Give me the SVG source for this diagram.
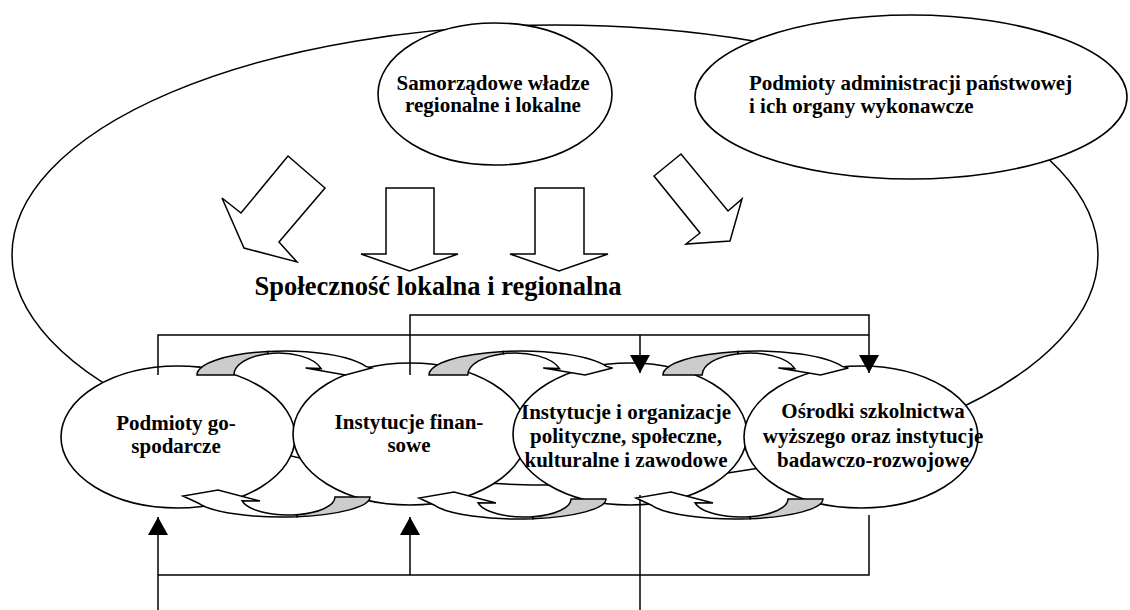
<svg xmlns="http://www.w3.org/2000/svg" width="1130" height="610" viewBox="0 0 1130 610">
<style>
.ln{fill:none;stroke:#000;stroke-width:1.5}
.sh{fill:#fff;stroke:#000;stroke-width:1.6}
.gr{fill:#cccccc;stroke:#000;stroke-width:1.5}
.wt{fill:#fff;stroke:#000;stroke-width:1.5}
text{font-family:"Liberation Serif","Times New Roman",serif;font-weight:bold;font-size:21px;fill:#000}
.c{text-anchor:middle}
.big{font-size:26.5px}
</style>
<defs>
<marker id="ah" viewBox="0 0 18 20" refX="18" refY="10" markerWidth="18" markerHeight="20" orient="auto" markerUnits="userSpaceOnUse">
<path d="M0,0 L18,10 L0,20 Z" fill="#000"/>
</marker>
<g id="ct">
<path class="gr" vector-effect="non-scaling-stroke" d="M0,0 A90,24 0 0 1 73,-23.57 L73,-21.36 A46,22 0 0 0 38,0 Z"/>
<path class="wt" vector-effect="non-scaling-stroke" d="M73,-23.57 A90,24 0 0 1 174,-8.6 L180,-7 L153,0 L112,-7 L128,-6.4 A46,22 0 0 0 73,-21.36 Z"/>
</g>
<g id="cb">
<path class="gr" d="M0,0 A88,20 0 0 1 -73,19.7 L-73,17.67 A47,18 0 0 0 -35,0 Z"/>
<path class="wt" d="M-73,19.7 A88,20 0 0 1 -172,5.96 L-187,-1 L-152,-7 L-110,4 L-128,3.7 A47,18 0 0 0 -73,17.67 Z"/>
</g>
</defs>
<g id="outer"><ellipse class="ln" cx="555" cy="255" rx="543" ry="230"/></g>
<g id="samorzad">
<ellipse class="sh" cx="495" cy="94" rx="117" ry="71"/>
<text class="c" x="493" y="90">Samorządowe władze</text>
<text class="c" x="493" y="112">regionalne i lokalne</text>
</g>
<g id="administracja">
<ellipse class="sh" cx="911" cy="97" rx="216" ry="82"/>
<text x="749" y="90">Podmioty administracji państwowej</text>
<text x="749" y="113">i ich organy wykonawcze</text>
</g>
<g id="block-arrows">
<path class="wt" d="M288,156 L325,188 L279,242 L297,262 L244,248 L222,198 L241,213 Z"/>
<path class="wt" d="M386,188 H434 V254 H458 L409.5,271 L361,254 H386 Z"/>
<path class="wt" d="M535,188 H584 V254 H608 L559,271 L510,254 H535 Z"/>
<path class="wt" d="M681,154 L654,176 L700,233 L686,244 L730,241 L742,199 L728,211 Z"/>
</g>
<g id="spolecznosc"><text class="c big" x="438" y="295">Społeczność lokalna i regionalna</text></g>
<g id="podmioty-gosp"><ellipse class="sh" cx="178" cy="437" rx="117" ry="71"/></g>
<g id="instytucje-fin"><ellipse class="sh" cx="410" cy="434" rx="117" ry="71"/></g>
<g id="instytucje-org"><ellipse class="sh" cx="630" cy="434" rx="117" ry="71"/></g>
<g id="osrodki"><ellipse class="sh" cx="861" cy="437" rx="117" ry="71"/></g>
<g id="connectors">
<path class="ln" d="M158,375 V335 H869"/>
<path class="ln" d="M410,375 V315 H869 V373" marker-end="url(#ah)"/>
<path class="ln" d="M640,335 V373" marker-end="url(#ah)"/>
<path class="ln" d="M158,610 V517" marker-end="url(#ah)"/>
<path class="ln" d="M158,575 H869 V515"/>
<path class="ln" d="M410,575 V517" marker-end="url(#ah)"/>
<path class="ln" d="M640,610 V495"/>
</g>
<g id="curved-arrows">
<use href="#ct" transform="translate(197,375) scale(0.97,1)"/>
<use href="#ct" transform="translate(429,375) scale(1.02,1)"/>
<use href="#ct" transform="translate(663,375) scale(1.03,1)"/>
<use href="#cb" transform="translate(370,497)"/>
<use href="#cb" transform="translate(606,499)"/>
<use href="#cb" transform="translate(823,499)"/>
</g>
<g id="labels">
<text class="c" x="176" y="430">Podmioty go-</text>
<text class="c" x="176" y="453">spodarcze</text>
<text class="c" x="409" y="429">Instytucje finan-</text>
<text class="c" x="409" y="452">sowe</text>
<text class="c" x="626" y="419">Instytucje i organizacje</text>
<text class="c" x="626" y="443">polityczne, społeczne,</text>
<text class="c" x="626" y="467">kulturalne i zawodowe</text>
<text class="c" x="873" y="418">Ośrodki szkolnictwa</text>
<text class="c" x="873" y="443">wyższego oraz instytucje</text>
<text class="c" x="873" y="467">badawczo-rozwojowe</text>
</g>
</svg>
